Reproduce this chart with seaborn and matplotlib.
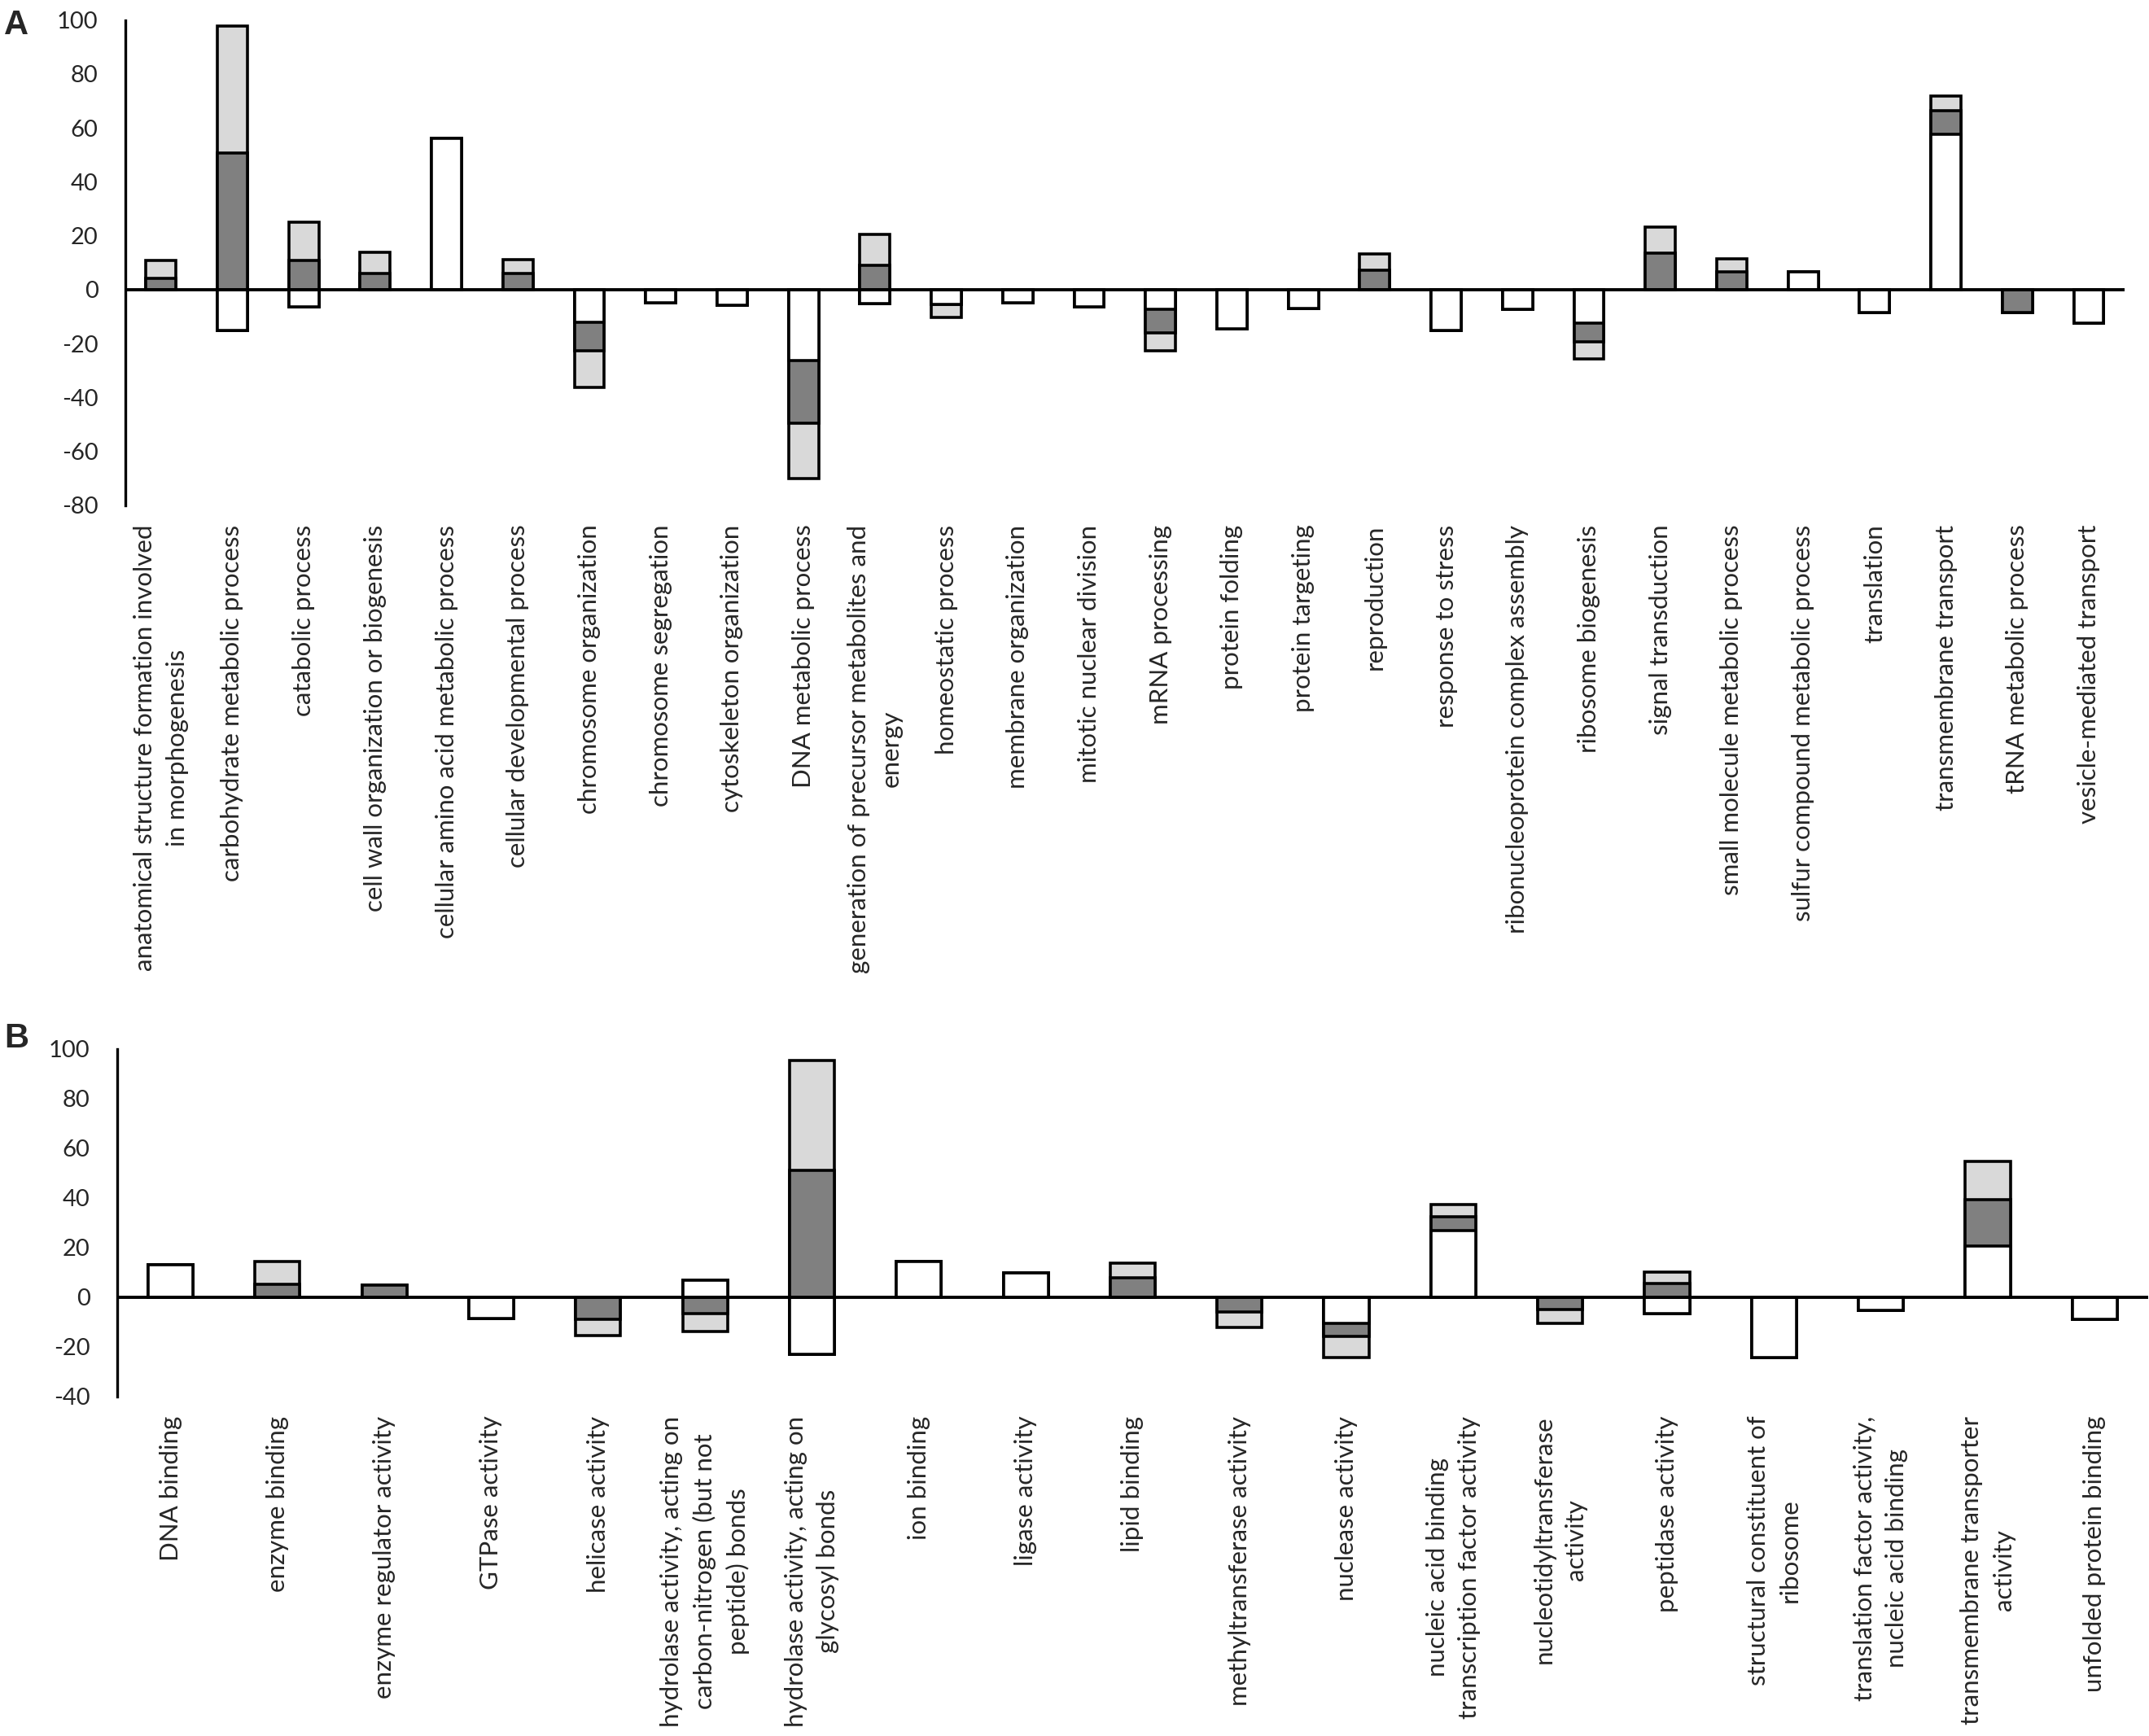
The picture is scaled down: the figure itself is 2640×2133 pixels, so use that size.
import numpy as np
import pandas as pd
import matplotlib
matplotlib.use('Agg')
import matplotlib.pyplot as plt
import seaborn as sns

# panel A: biological process categories
cats_a = ['anatomical structure formation involved\nin morphogenesis',
          'carbohydrate metabolic process', 'catabolic process',
          'cell wall organization or biogenesis',
          'cellular amino acid metabolic process',
          'cellular developmental process', 'chromosome organization',
          'chromosome segregation', 'cytoskeleton organization',
          'DNA metabolic process',
          'generation of precursor metabolites and\nenergy',
          'homeostatic process', 'membrane organization',
          'mitotic nuclear division', 'mRNA processing', 'protein folding',
          'protein targeting', 'reproduction', 'response to stress',
          'ribonucleoprotein complex assembly', 'ribosome biogenesis',
          'signal transduction', 'small molecule metabolic process',
          'sulfur compound metabolic process', 'translation',
          'transmembrane transport', 'tRNA metabolic process',
          'vesicle-mediated transport']
white_a = [0, -15.2, -6.5, 0, 56.1, 0, -12.1, -5.0, -5.9, -26.2, -5.3, -5.6,
           -4.9, -6.5, -7.4, -14.4, -6.9, 0, -15.0, -7.2, -12.4, 0, 0, 6.6,
           -8.4, 57.6, 0, -12.5]
dark_a = [4.3, 50.8, 10.7, 5.9, 0, 5.9, -10.7, 0, 0, -23.3, 9.1, 0, 0, 0,
          -8.5, 0, 0, 7.3, 0, 0, -6.9, 13.5, 6.6, 0, 0, 8.8, -8.6, 0]
light_a = [6.5, 47.0, 14.3, 8.0, 0, 5.2, -13.5, 0, 0, -20.7, 11.3, -4.7, 0,
           0, -6.9, 0, 0, 6.0, 0, 0, -6.4, 9.6, 4.7, 0, 0, 5.4, 0, 0]

# panel B: molecular function categories
cats_b = ['DNA binding', 'enzyme binding', 'enzyme regulator activity',
          'GTPase activity', 'helicase activity',
          'hydrolase activity, acting on\ncarbon-nitrogen (but not\npeptide) bonds',
          'hydrolase activity, acting on\nglycosyl bonds', 'ion binding',
          'ligase activity', 'lipid binding', 'methyltransferase activity',
          'nuclease activity',
          'nucleic acid binding\ntranscription factor activity',
          'nucleotidyltransferase\nactivity', 'peptidase activity',
          'structural constituent of\nribosome',
          'translation factor activity,\nnucleic acid binding',
          'transmembrane transporter\nactivity', 'unfolded protein binding']
white_b = [13.1, 0, 0, -8.5, 0, 6.9, -23.0, 14.3, 9.7, 0, 0, -10.4, 26.8, 0,
           -6.7, -24.1, -5.4, 20.5, -8.7]
dark_b = [0, 5.2, 4.8, 0, -8.7, -6.5, 51.3, 0, 0, 7.8, -6.0, -5.2, 5.8,
          -4.9, 5.6, 0, 0, 18.7, 0]
light_b = [0, 9.2, 0, 0, -6.6, -7.4, 44.0, 0, 0, 6.1, -6.0, -8.5, 4.9,
           -5.7, 4.4, 0, 0, 15.4, 0]

WHITE = '#ffffff'
DARK = '#808080'
LIGHT = '#d9d9d9'

sns.set_style('white')
plt.rcParams['font.family'] = ['Lato', 'DejaVu Sans']
plt.rcParams['axes.unicode_minus'] = False


def layers(white, dark, light):
    # stack white, dark, light outward from zero, positives and negatives apart
    w, d, l = (np.array(v, dtype=float) for v in (white, dark, light))
    out = []
    for sign in (1, -1):
        wp = np.where(sign * w > 0, w, 0)
        dp = np.where(sign * d > 0, d, 0)
        lp = np.where(sign * l > 0, l, 0)
        out += [(wp + dp + lp, LIGHT), (wp + dp, DARK), (wp, WHITE)]
    return out


def stacked(ax, cats, white, dark, light, ylim, yticks):
    for vals, col in layers(white, dark, light):
        df = pd.DataFrame({'cat': cats, 'val': vals})
        sns.barplot(data=df, x='cat', y='val', color=col, saturation=1,
                    edgecolor='black', linewidth=2.6, width=0.42,
                    errorbar=None, ax=ax)
    ax.axhline(0, color='black', lw=2.8, zorder=5)
    ax.set_xlim(-0.5, len(cats) - 0.5)
    ax.set_ylim(*ylim)
    ax.set_yticks(yticks)
    ax.set_xlabel('')
    ax.set_ylabel('')
    for s in ['top', 'right', 'bottom']:
        ax.spines[s].set_visible(False)
    ax.spines['left'].set_color('black')
    ax.spines['left'].set_linewidth(2.4)
    ax.tick_params(axis='y', length=0, pad=24, labelsize=21)
    ax.tick_params(axis='x', length=0, pad=17, labelsize=22.5)
    ax.set_xticks(range(len(cats)))
    ax.set_xticklabels(cats, rotation=90, va='top', ha='center',
                       multialignment='center', linespacing=1.5)


fig = plt.figure(figsize=(26.4, 21.33), dpi=100)
ax_a = fig.add_axes([0.0583, 0.7089, 0.9303, 0.2796])
ax_b = fig.add_axes([0.0545, 0.1955, 0.9451, 0.2002])

stacked(ax_a, cats_a, white_a, dark_a, light_a, (-80, 100),
        range(-80, 101, 20))
stacked(ax_b, cats_b, white_b, dark_b, light_b, (-40, 100),
        range(-40, 101, 20))

fig.text(0.002, 0.995, 'A', fontsize=30, fontweight='bold',
         family='Liberation Sans', va='top', ha='left')
fig.text(0.002, 0.411, 'B', fontsize=30, fontweight='bold',
         family='Liberation Sans', va='top', ha='left')

fig.savefig('out.png', dpi=100, facecolor='white')
